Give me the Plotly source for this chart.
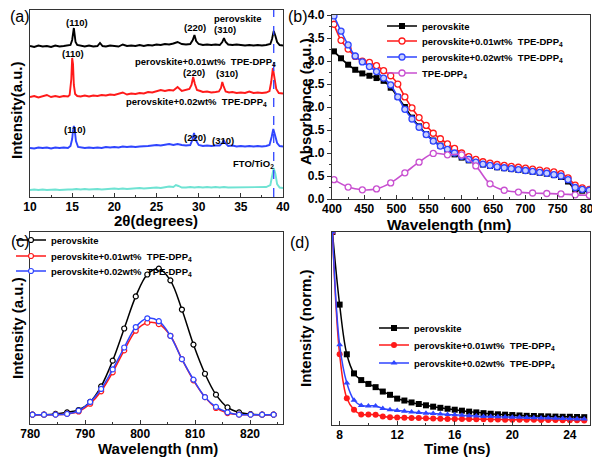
import plotly.graph_objects as go

# ---------------- data ----------------
# (a) XRD patterns: (2theta, intensity offset-stacked, a.u.)
XRD_PEROVSKITE = [(10,151),(10.5,150),(11,151.5),(11.5,150.5),(12,151),(12.5,150),(13,151.5),(13.5,150.5),(14,151),(14.5,151.5),
    (14.8,152),(15.0,157),(15.1,165),(15.2,169),(15.3,162),(15.4,155),(15.6,152),(16,151),(16.5,150.5),(17,151.5),(17.5,150.5),
    (18,151),(18.3,154),(18.6,151),(19,150.5),(19.5,151.5),(20,151),(20.5,150.5),(21,152.5),(21.5,151),(22,151.5),(22.5,151),
    (23,152),(23.5,151),(24,152),(24.5,151.5),(25,152.5),(25.5,152),(26,153),(26.5,152.5),(27,153.5),(27.5,155),(28,153),
    (28.5,152.5),(29,153),(29.3,157),(29.5,162),(29.7,156),(30,153),(30.5,152),(31,152.5),(31.5,152),(32,152.5),(32.5,152),
    (32.8,155),(33.0,159),(33.2,155),(33.5,152.5),(34,152),(34.5,152.5),(35,152),(35.5,151.5),(36,152),(36.5,151.5),(37,152),
    (37.5,151.5),(38,152),(38.5,153),(38.7,158),(38.9,166),(39.1,161),(39.3,155),(39.6,152),(40,151.5)]
XRD_001 = [(10,100),(10.5,101),(11,99.5),(11.5,101),(12,102),(12.5,100),(13,101),(13.5,100),(14,101),(14.5,100.5),(14.7,102),
    (14.9,118),(15.0,139),(15.1,133),(15.2,112),(15.35,103),(15.6,101),(16,100.5),(16.5,101.5),(17,100.5),(17.5,101.5),(18,101),
    (18.5,102),(19,101.5),(19.5,102.5),(20,102),(20.5,103),(21,104.5),(21.5,102.5),(22,103.5),(22.5,103),(23,104),(23.5,103.5),
    (24,105),(24.5,104.5),(25,106),(25.5,107),(26,106),(26.5,107),(27,106.5),(27.5,110),(28,106),(28.5,107),(28.9,108),
    (29.15,112),(29.35,120),(29.55,113),(29.8,107),(30.2,106),(30.5,105),(31,105.5),(31.5,104.5),(32,105),(32.4,105.5),
    (32.65,109),(32.8,115),(32.95,111),(33.2,105.5),(33.6,104.5),(34,105),(34.5,104),(35,104.5),(35.5,104),(36,105.5),
    (36.5,104),(37,104.5),(37.5,104),(38,104.5),(38.4,106),(38.6,115),(38.8,129),(39.0,120),(39.2,108),(39.5,104),(40,103.5)]
XRD_002 = [(10,49),(10.5,48.5),(11,49.5),(11.5,49),(12,49.5),(12.5,48.5),(13,49.5),(13.5,49),(14,49.5),(14.5,49),(14.8,51),
    (15.0,58),(15.1,66),(15.2,71),(15.3,67),(15.45,56),(15.7,50),(16,49.5),(16.5,49),(17,49.5),(17.5,49),(18,49.5),(18.5,49),
    (19,50),(19.5,49.5),(20,50),(20.5,49.5),(21,50.5),(21.5,50),(22,50.5),(22.5,50),(23,50.5),(23.5,50.5),(24,51),(24.5,51.5),
    (25,52),(25.5,51.5),(26,52.5),(26.5,53),(27,52),(27.5,53),(28,52),(28.5,51.5),(29,52),(29.25,57),(29.45,64),(29.65,57),
    (30,52),(30.5,51),(31,51.5),(31.5,51),(32,51.5),(32.5,51.5),(32.8,54),(32.95,57),(33.15,54),(33.5,51),(34,51.5),(34.5,50.5),
    (35,51),(35.5,50.5),(36,51),(36.5,50.5),(37,51),(37.5,50.5),(38,51),(38.4,52),(38.65,60),(38.85,68),(39.05,62),(39.3,54),
    (39.6,51),(40,50.5)]
XRD_FTO = [(10,7),(10.5,7.5),(11,7),(11.5,7.5),(12,7),(12.5,7.5),(13,7.5),(13.5,7),(14,7.5),(14.5,7.5),(15,7.5),(15.5,8),(16,7.5),
    (16.5,8),(17,7.5),(17.5,8),(18,8),(18.5,7.5),(19,8),(19.5,8),(20,8.5),(20.5,8),(21,8.5),(21.5,8),(22,8.5),(22.5,8.5),(23,9),
    (23.5,8.5),(24,9),(24.5,9),(25,9.5),(25.5,9),(26,10),(26.5,10.5),(27,10),(27.3,12),(27.6,11),(28,9.5),(28.5,9.5),(29,10),
    (29.5,9.5),(30,10),(30.5,9.5),(31,10),(31.5,9.5),(32,10),(32.5,9.5),(33,10),(33.5,9.5),(34,9.5),(34.5,10),(35,9.5),(35.5,9.5),
    (36,9.5),(36.5,9.5),(37,9.5),(37.5,9.5),(38,10),(38.5,12),(38.7,20),(38.9,29),(39.1,23),(39.3,13),(39.6,9.5),(40,9)]
XRD_REF_LINE = 38.9

# (b) absorbance
ABS_X = [403,414,425,436,447,458,469,480,491,502,513,524,535,546,557,568,579,590,601,612,623,634,645,656,667,678,689,700,
         711,722,733,744,755,766,777,788,799]
ABS_PEROVSKITE = [3.21,3.06,2.92,2.81,2.73,2.68,2.63,2.57,2.42,2.22,2.0,1.77,1.58,1.41,1.27,1.16,1.07,0.97,0.9,0.84,0.79,0.75,
                  0.72,0.69,0.67,0.65,0.63,0.61,0.59,0.57,0.55,0.52,0.48,0.38,0.2,0.18,0.16]
ABS_001 = [3.8,3.45,3.26,3.1,3.0,2.97,2.9,2.79,2.68,2.5,2.22,1.98,1.77,1.6,1.43,1.31,1.2,1.1,1.0,0.92,0.86,0.81,0.78,0.75,0.73,
           0.71,0.69,0.67,0.65,0.63,0.61,0.59,0.55,0.46,0.3,0.24,0.21]
ABS_002 = [3.98,3.65,3.35,3.11,2.98,2.88,2.77,2.63,2.48,2.22,1.95,1.74,1.56,1.4,1.26,1.15,1.08,1.0,0.93,0.86,0.8,0.76,0.73,0.7,
           0.68,0.66,0.64,0.62,0.6,0.58,0.56,0.53,0.5,0.42,0.25,0.21,0.19]
ABS_TPE_X = [403,425,447,469,491,513,535,557,579,601,623,645,667,689,711,733,755,777,799]
ABS_TPE = [0.42,0.26,0.2,0.22,0.35,0.57,0.8,0.99,0.96,0.96,0.72,0.33,0.19,0.15,0.13,0.12,0.11,0.09,0.08]

# (c) PL
PL_X = [780.4,782.5,784.6,786.7,788.8,790.9,792.9,795.0,797.1,799.2,801.3,803.4,805.5,807.6,809.7,811.8,813.8,815.9,818.0,
        820.1,822.2,824.3]
PL_PEROVSKITE = [0,0,0.005,0.016,0.032,0.087,0.194,0.37,0.59,0.81,0.96,1.0,0.92,0.72,0.48,0.28,0.137,0.05,0.016,0.003,0,0]
PL_001 = [0,0,0,0.005,0.022,0.075,0.16,0.29,0.44,0.575,0.63,0.62,0.54,0.38,0.235,0.12,0.046,0.011,0,0,0,0]
PL_002 = [0,0,0,0.005,0.027,0.087,0.176,0.31,0.46,0.6,0.66,0.64,0.54,0.38,0.24,0.12,0.053,0.016,0,0,0,0]

# (d) TRPL
TR_T = [7.5,8.0,8.5,9.0,9.5,10.0,10.5,11.0,11.5,12.0,12.5,13.0,13.5,14.0,14.5,15.0,15.5,16.0,16.5,17.0,17.5,18.0,18.5,19.0,
        19.5,20.0,20.5,21.0,21.5,22.0,22.5,23.0,23.5,24.0,24.5,25.0]
TR_PEROVSKITE = [1.0,0.62,0.36,0.26,0.225,0.205,0.188,0.165,0.148,0.128,0.118,0.108,0.1,0.093,0.086,0.08,0.075,0.07,0.065,0.06,
                 0.056,0.052,0.049,0.046,0.044,0.042,0.04,0.038,0.037,0.036,0.035,0.034,0.033,0.033,0.032,0.031]
TR_001 = [1.0,0.36,0.13,0.07,0.045,0.045,0.044,0.035,0.031,0.029,0.028,0.027,0.026,0.025,0.024,0.023,0.022,0.022,0.021,0.021,
          0.02,0.02,0.019,0.019,0.018,0.018,0.017,0.017,0.017,0.016,0.016,0.016,0.015,0.015,0.015,0.014]
TR_002 = [1.0,0.41,0.21,0.12,0.092,0.09,0.09,0.076,0.07,0.066,0.062,0.058,0.055,0.052,0.05,0.047,0.045,0.043,0.041,0.039,
          0.037,0.035,0.034,0.033,0.032,0.031,0.03,0.029,0.028,0.027,0.026,0.025,0.024,0.023,0.022,0.021]

NAMES = ["perovskite", "perovskite+0.01wt%  TPE-DPP<sub>4</sub>", "perovskite+0.02wt%  TPE-DPP<sub>4</sub>", "TPE-DPP<sub>4</sub>"]

BLACK, RED, BLUE, MAG, CYAN = "#000000", "#ff1a1a", "#2f45ff", "#c84fd0", "#6fe3d3"
FONT = "Liberation Sans, Arial, sans-serif"

# ---------------- figure ----------------
# the page body has an 8px default margin, so window pixel p sits at figure pixel p-8
W, H = 600, 458
OFF = 8
def fx(p): return min(1.0, max(0.0, (p - OFF) / W))
def fy(p): return min(1.0, max(0.0, 1 - (p - OFF) / H))

fig = go.Figure()

def unzip(pairs):
    return [p[0] for p in pairs], [p[1] for p in pairs]

for pairs, col in [(XRD_PEROVSKITE, BLACK), (XRD_001, RED), (XRD_002, BLUE), (XRD_FTO, CYAN)]:
    xs, ys = unzip(pairs)
    fig.add_trace(go.Scatter(x=xs, y=ys, mode="lines", line=dict(color=col, width=1.9),
                             showlegend=False, xaxis="x", yaxis="y"))

# legend slots: (legend id, text-start x px, item centre y px)
LEG_B = [("legend", 423, 26), ("legend2", 423, 41), ("legend3", 423, 57), ("legend4", 423, 73)]
LEG_C = [("legend5", 52, 240), ("legend6", 52, 256), ("legend7", 52, 271)]
LEG_D = [("legend8", 415, 328), ("legend9", 415, 345), ("legend10", 415, 363)]

# (b)
abs_specs = [
    (ABS_X, ABS_PEROVSKITE, BLACK, dict(symbol="square", size=6, color=BLACK)),
    (ABS_X, ABS_001, RED, dict(symbol="circle", size=6, color="white", line=dict(color=RED, width=1.3))),
    (ABS_X, ABS_002, BLUE, dict(symbol="circle", size=6, color="#c8d0ff", line=dict(color=BLUE, width=1.3))),
    (ABS_TPE_X, ABS_TPE, MAG, dict(symbol="circle", size=6, color="white", line=dict(color=MAG, width=1.3))),
]
for (xs, ys, col, mk), nm, lg in zip(abs_specs, NAMES, LEG_B):
    fig.add_trace(go.Scatter(x=xs, y=ys, mode="lines+markers", name=nm, line=dict(color=col, width=1.6, shape="spline"),
                             marker=mk, xaxis="x2", yaxis="y2", legend=lg[0]))

# (c)
for ys, col, nm, lg in zip([PL_PEROVSKITE, PL_001, PL_002], [BLACK, RED, BLUE], NAMES[:3], LEG_C):
    fig.add_trace(go.Scatter(x=PL_X, y=ys, mode="lines+markers", name=nm, line=dict(color=col, width=1.5, shape="spline"),
                             marker=dict(symbol="circle", size=5, color="white", line=dict(color=col, width=1.2)),
                             xaxis="x3", yaxis="y3", legend=lg[0]))

# (d)
for ys, col, sym, nm, lg in zip([TR_PEROVSKITE, TR_001, TR_002], [BLACK, RED, BLUE], ["square", "circle", "triangle-up"],
                                NAMES[:3], LEG_D):
    fig.add_trace(go.Scatter(x=TR_T, y=ys, mode="lines+markers", name=nm, line=dict(color=col, width=1.5, shape="spline"),
                             marker=dict(symbol=sym, size=6, color=col),
                             xaxis="x4", yaxis="y4", legend=lg[0]))

tickfont = dict(family=FONT, size=12, color="black", weight="bold")
def xax(dom, anchor, rng, tickvals, minor_dtick, **kw):
    d = dict(domain=dom, anchor=anchor, range=rng, tickvals=tickvals, showline=True, mirror=True, automargin=False,
             linecolor="#333333", linewidth=1.2, ticks="inside", ticklen=4, tickwidth=1, tickcolor="#333333",
             showgrid=False, zeroline=False, tickfont=tickfont, ticklabelstandoff=-2, ticklabeloverflow="allow",
             minor=dict(dtick=minor_dtick, ticks="inside", ticklen=2, tickcolor="#333333", showgrid=False))
    d.update(kw)
    return d

def yax(dom, anchor, rng, labels=False, **kw):
    d = dict(domain=dom, anchor=anchor, range=rng, showline=True, mirror=True, linecolor="#333333", linewidth=1.2,
             showgrid=False, zeroline=False, tickfont=tickfont, automargin=False, ticklabeloverflow="allow")
    if labels:
        d.update(ticks="outside", ticklen=4, tickwidth=1, tickcolor="#333333",
                 minor=dict(dtick=0.25, ticks="outside", ticklen=2, tickcolor="#333333", showgrid=False))
    else:
        d.update(showticklabels=False, ticks="")
    d.update(kw)
    return d

legfont = dict(family=FONT, size=9.5, color="black", weight="bold")
TEXT_OFFSET = 41
legends = {}
for lid, tx, cy in LEG_B + LEG_C + LEG_D:
    legends[lid] = dict(x=fx(tx - TEXT_OFFSET), y=fy(cy), xanchor="left", yanchor="middle", bgcolor="rgba(0,0,0,0)",
                        font=legfont, itemwidth=30)

fig.update_layout(
    width=W, height=H, margin=dict(l=0, r=0, t=0, b=0, autoexpand=False), plot_bgcolor="white", paper_bgcolor="white",
    font=dict(family=FONT, color="black"),
    xaxis=xax([fx(30), fx(283)], "y", [10, 40], [10, 15, 20, 25, 30, 35, 40], 2.5),
    yaxis=yax([fy(197), fy(10)], "x", [0, 187]),
    xaxis2=xax([fx(332), fx(590)], "y2", [400, 800], [400, 450, 500, 550, 600, 650, 700, 750, 800], 25),
    yaxis2=yax([fy(199), fy(15)], "x2", [0, 4.001], labels=True, tickvals=[0, 0.5, 1, 1.5, 2, 2.5, 3, 3.5, 4],
               tickformat=".1f"),
    xaxis3=xax([fx(30), fx(283)], "y3", [779.95, 826], [780, 790, 800, 810, 820], 5),
    yaxis3=yax([fy(424), fy(232)], "x3", [-0.064, 1.251]),
    xaxis4=xax([fx(332), fx(590)], "y4", [7.47, 25.4], [8, 12, 16, 20, 24], 2),
    yaxis4=yax([fy(425), fy(232)], "x4", [-0.01, 1.0]),
    **legends,
)

fig.add_shape(type="line", xref="x", yref="y domain", x0=XRD_REF_LINE, x1=XRD_REF_LINE, y0=0, y1=1,
              line=dict(color=BLUE, width=1.3, dash="dash"))

ann = dict(family=FONT, size=9.5, color="black", weight="bold")
XRD_LABELS = [("(110)", 15.54, 175), ("(220)", 29.57, 170), ("(310)", 33.1, 168), ("perovskite", 34.7, 179),
              ("(110)", 15.14, 144), ("perovskite+0.01wt%  TPE-DPP<sub>4</sub>", 30.85, 135), ("(220)", 29.49, 125),
              ("(310)", 33.3, 124), ("perovskite+0.02wt%  TPE-DPP<sub>4</sub>", 29.76, 95), ("(110)", 15.34, 68),
              ("(220)", 29.57, 60), ("(310)", 32.9, 57), ("FTO/TiO<sub>2</sub>", 36.45, 33)]
for t, x, y in XRD_LABELS:
    fig.add_annotation(text=t, x=x, y=y, xref="x", yref="y", showarrow=False, font=ann)

title_font = dict(family=FONT, size=16, color="black", weight="bold")
def title(text, x, y, angle=0, size=16):
    f = dict(title_font); f["size"] = size
    fig.add_annotation(text=text, x=fx(x), y=fy(y), xref="paper", yref="paper", showarrow=False,
                       textangle=angle, font=f, xanchor="center", yanchor="middle")

title("2θ(degrees)", 156, 221, size=15)
title("Intensity(a.u.)", 17, 110, angle=-90, size=15)
title("Wavelength (nm)", 449, 224, size=15.5)
title("Absorbance (a.u.)", 305, 102, angle=-90, size=15)
title("Wavelength (nm)", 158, 448, size=15)
title("Intensity (a.u.)", 17, 328, angle=-90, size=15)
title("Time (ns)", 457, 448, size=15)
title("Intensity (norm.)", 305, 328, angle=-90, size=15)

panel_font = dict(family=FONT, size=16, color="black")
for t, x, y in [("(a)", 20, 17), ("(b)", 298, 17), ("(c)", 20, 241), ("(d)", 300, 242)]:
    fig.add_annotation(text=t, x=fx(x), y=fy(y), xref="paper", yref="paper", showarrow=False, font=panel_font,
                       xanchor="center", yanchor="middle")

fig.write_html("out.html")
